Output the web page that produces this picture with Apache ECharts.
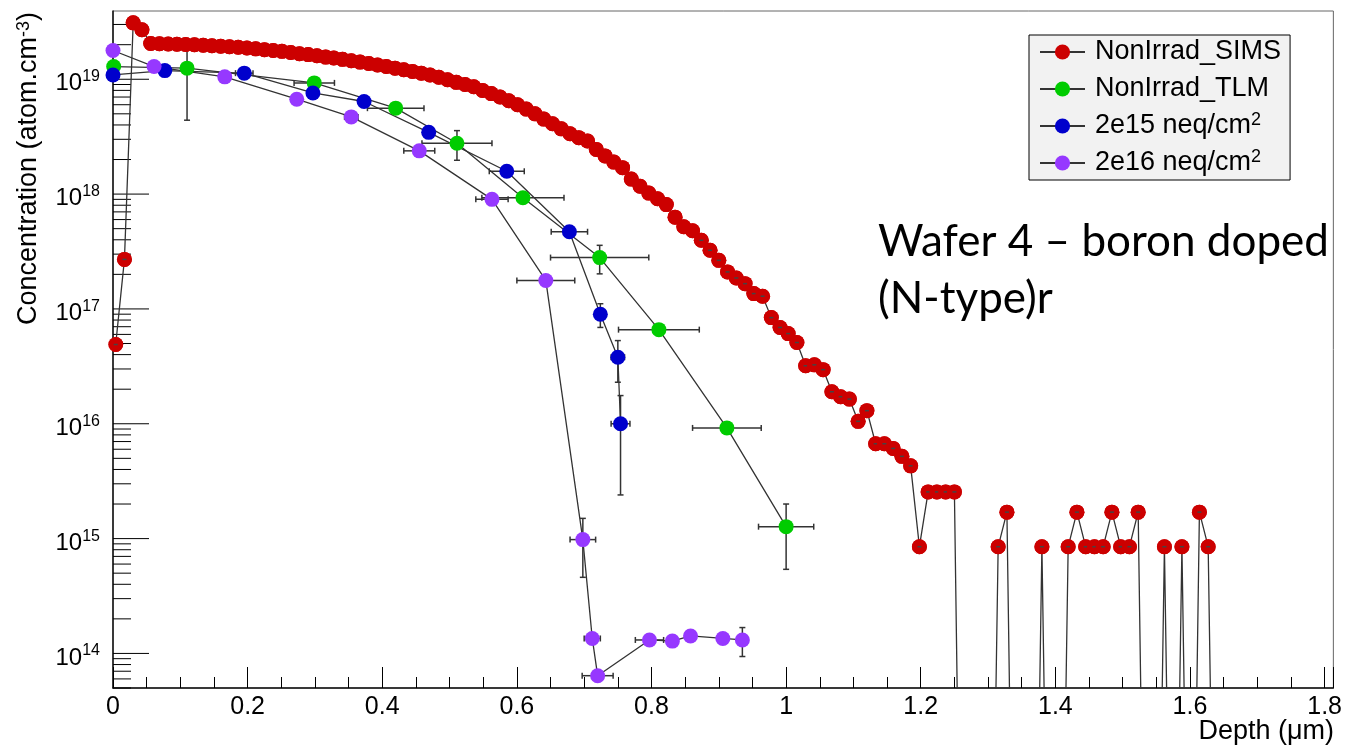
<!DOCTYPE html>
<html>
<head>
<meta charset="utf-8">
<title>Wafer 4 boron profile</title>
<script src="https://cdn.jsdelivr.net/npm/echarts@6/dist/echarts.min.js"></script>
<style>
  html, body { margin: 0; padding: 0; background: #ffffff; }
  #chart { width: 1345px; height: 751px; }
</style>
</head>
<body>
<div id="chart"></div>
<script>
// ---- Boron concentration vs depth (depth in um, concentration in atom/cm3) ----

// SIMS profile, non irradiated wafer (0 = no counts)
const simsDepth = [
  0.004, 0.017, 0.030, 0.043, 0.056, 0.069, 0.082, 0.095, 0.108, 0.121,
  0.134, 0.147, 0.160, 0.173, 0.186, 0.199, 0.212, 0.225, 0.238, 0.251,
  0.264, 0.277, 0.290, 0.303, 0.316, 0.328, 0.341, 0.354, 0.367, 0.380,
  0.393, 0.406, 0.419, 0.432, 0.445, 0.458, 0.471, 0.484, 0.497, 0.510,
  0.523, 0.536, 0.549, 0.562, 0.575, 0.588, 0.601, 0.614, 0.627, 0.640,
  0.653, 0.666, 0.679, 0.692, 0.705, 0.718, 0.731, 0.744, 0.757, 0.770,
  0.783, 0.796, 0.809, 0.822, 0.835, 0.848, 0.861, 0.874, 0.887, 0.900,
  0.913, 0.926, 0.939, 0.952, 0.965, 0.978, 0.991, 1.003, 1.016, 1.029,
  1.042, 1.055, 1.068, 1.081, 1.094, 1.107, 1.120, 1.133, 1.146, 1.159,
  1.172, 1.185, 1.198, 1.211, 1.224, 1.237, 1.250, 1.263, 1.276, 1.289,
  1.302, 1.315, 1.328, 1.341, 1.354, 1.367, 1.380, 1.393, 1.406, 1.419,
  1.432, 1.445, 1.458, 1.471, 1.484, 1.497, 1.510, 1.523, 1.536, 1.549,
  1.562, 1.575, 1.588, 1.601, 1.614, 1.627, 1.640
];
const simsConc = [
  4.9e16, 2.7e17, 3.1e19, 2.7e19, 2.05e19, 2.04e19, 2.03e19, 2.02e19, 2.01e19, 2.00e19,
  1.98e19, 1.96e19, 1.94e19, 1.92e19, 1.90e19, 1.87e19, 1.84e19, 1.81e19, 1.78e19, 1.75e19,
  1.71e19, 1.67e19, 1.64e19, 1.60e19, 1.56e19, 1.53e19, 1.49e19, 1.45e19, 1.41e19, 1.37e19,
  1.33e19, 1.29e19, 1.25e19, 1.21e19, 1.17e19, 1.13e19, 1.09e19, 1.04e19, 9.9e18, 9.4e18,
  9.0e18, 8.6e18, 8.0e18, 7.5e18, 7.0e18, 6.5e18, 6.0e18, 5.5e18, 5.0e18, 4.5e18,
  4.1e18, 3.7e18, 3.35e18, 3.1e18, 2.9e18, 2.45e18, 2.15e18, 1.9e18, 1.7e18, 1.35e18,
  1.17e18, 1.02e18, 9.1e17, 8.1e17, 6.3e17, 5.2e17, 4.8e17, 3.96e17, 3.24e17, 2.65e17,
  2.10e17, 1.86e17, 1.66e17, 1.36e17, 1.29e17, 8.4e16, 6.9e16, 6.1e16, 5.1e16, 3.2e16,
  3.26e16, 2.96e16, 1.9e16, 1.72e16, 1.64e16, 1.05e16, 1.30e16, 6.7e15, 6.7e15, 6.1e15,
  5.2e15, 4.3e15, 8.5e14, 2.55e15, 2.55e15, 2.55e15, 2.55e15, 0, 0, 0,
  0, 8.5e14, 1.7e15, 0, 0, 0, 8.5e14, 0, 0, 8.5e14,
  1.7e15, 8.5e14, 8.5e14, 8.5e14, 1.7e15, 8.5e14, 8.5e14, 1.7e15, 0, 0,
  8.5e14, 0, 8.5e14, 0, 1.7e15, 8.5e14, 0
];

// TLM extraction, non irradiated
const tlmDepth    = [0.001, 0.110, 0.299, 0.420, 0.511, 0.609, 0.723, 0.811, 0.912, 1.000];
const tlmConc     = [1.29e19, 1.25e19, 9.3e18, 5.6e18, 2.77e18, 9.3e17, 2.8e17, 6.6e16, 9.2e15, 1.27e15];
const tlmDepthErr = [0, 0, 0.030, 0.042, 0.052, 0.061, 0.073, 0.060, 0.051, 0.041];
const tlmConcErr  = [0, 8.1e18, 0, 0, 8.0e17, 0, 7.8e16, 0, 0, 7.3e14];

// 2e15 neq/cm2
const f15Depth    = [0.000, 0.077, 0.195, 0.297, 0.373, 0.469, 0.585, 0.678, 0.724, 0.750, 0.754];
const f15Conc     = [1.09e19, 1.19e19, 1.13e19, 7.6e18, 6.4e18, 3.45e18, 1.58e18, 4.7e17, 9.0e16, 3.8e16, 1.0e16];
const f15DepthErr = [0, 0, 0.013, 0, 0, 0, 0.026, 0.027, 0.004, 0.010, 0.014];
const f15ConcErr  = [0, 0, 0, 0, 0, 0, 0, 0, 2.1e16, 1.5e16, 7.6e15];

// 2e16 neq/cm2
const f16Depth    = [0.000, 0.061, 0.166, 0.273, 0.354, 0.455, 0.563, 0.643, 0.698, 0.712, 0.720, 0.797, 0.831, 0.858, 0.906, 0.935];
const f16Conc     = [1.78e19, 1.29e19, 1.05e19, 6.7e18, 4.7e18, 2.38e18, 9.0e17, 1.77e17, 9.8e14, 1.35e14, 6.4e13, 1.31e14, 1.28e14, 1.42e14, 1.35e14, 1.31e14];
const f16DepthErr = [0, 0, 0, 0, 0.010, 0.023, 0.024, 0.043, 0.019, 0.012, 0.023, 0.021, 0, 0, 0, 0];
const f16ConcErr  = [0, 0, 0, 0, 0, 0, 0, 0, 5.2e14, 0, 0, 0, 1.4e13, 0, 0, 3.7e13];

// axis ranges
const depthMin = 0, depthMax = 1.813;
const concMin = 5.0e13, concMax = 3.93e19;
const decades = [13, 14, 15, 16, 17, 18, 19];

const seriesNames = ['NonIrrad_SIMS', 'NonIrrad_TLM', '2e15 neq/cm2', '2e16 neq/cm2'];
const seriesColors = ['#cc0000', '#00cc00', '#0000cc', '#9638ff'];

const FONT = 'Liberation Sans';
const ZERO_FLOOR = 1e10;      // zero-count SIMS bins fall far below the axis
const MARKER_R = 7.5;
const SIMS_DASH_BELOW = 4.5e17; // depth-error dash is only shown on the low-count part of the profile

const pairs = (xs, ys) => xs.map((x, i) => [x, ys[i]]);
const errRows = (xs, ys, exs, eys) => xs.map((x, i) => [x, ys[i], exs[i], eys[i]]);

// minor / major ticks of the logarithmic axis
const yTicks = [];
decades.forEach(function (d) {
  for (let k = 1; k <= 9; k++) {
    const v = k * Math.pow(10, d);
    if (v >= concMin && v <= concMax) yTicks.push([0, v, k === 1 ? 36 : 18]);
  }
});

function renderYTick(params, api) {
  const p = api.coord([api.value(0), api.value(1)]);
  const len = api.value(2);
  return {
    type: 'line',
    shape: { x1: p[0], y1: p[1], x2: p[0] + len, y2: p[1] },
    style: { stroke: '#000', lineWidth: 1 }
  };
}

function renderErrors(params, api) {
  const x = api.value(0), y = api.value(1), ex = api.value(2), ey = api.value(3);
  const c = api.coord([x, y]);
  const style = { stroke: '#333', lineWidth: 1.5 };
  const cap = 3;
  const kids = [];
  if (ex > 0) {
    const l = api.coord([x - ex, y])[0], h = api.coord([x + ex, y])[0];
    kids.push({ type: 'line', shape: { x1: l, y1: c[1], x2: h, y2: c[1] }, style: style });
    kids.push({ type: 'line', shape: { x1: l, y1: c[1] - cap, x2: l, y2: c[1] + cap }, style: style });
    kids.push({ type: 'line', shape: { x1: h, y1: c[1] - cap, x2: h, y2: c[1] + cap }, style: style });
  }
  if (ey > 0) {
    const lo = api.coord([x, Math.max(y - ey, concMin * 0.5)])[1], hi = api.coord([x, y + ey])[1];
    kids.push({ type: 'line', shape: { x1: c[0], y1: lo, x2: c[0], y2: hi }, style: style });
    kids.push({ type: 'line', shape: { x1: c[0] - cap, y1: lo, x2: c[0] + cap, y2: lo }, style: style });
    kids.push({ type: 'line', shape: { x1: c[0] - cap, y1: hi, x2: c[0] + cap, y2: hi }, style: style });
  }
  return { type: 'group', children: kids };
}

// SIMS markers, drawn point by point with their small depth-error dash
function renderSimsMarker(params, api) {
  const v = api.value(1);
  const p = api.coord([api.value(0), v]);
  const kids = [
    { type: 'circle', shape: { cx: p[0], cy: p[1], r: MARKER_R }, style: { fill: seriesColors[0] } }
  ];
  if (v < SIMS_DASH_BELOW) {
    kids.push({ type: 'line', shape: { x1: p[0] - 2, y1: p[1], x2: p[0] + 2, y2: p[1] }, style: { stroke: '#444', lineWidth: 1.5 } });
  }
  return { type: 'group', children: kids };
}

function lineSeries(name, color, data) {
  return {
    name: name,
    type: 'line',
    data: data,
    z: 3,
    symbol: 'circle',
    symbolSize: MARKER_R * 2,
    showAllSymbol: true,
    itemStyle: { color: color },
    lineStyle: { color: '#333', width: 1.3 },
    clip: true,
    emphasis: { disabled: true }
  };
}

const simsLineData = simsDepth.map((d, i) => [d, simsConc[i] > 0 ? simsConc[i] : ZERO_FLOOR]);
const simsMarkerData = pairs(simsDepth, simsConc).filter(r => r[1] > 0);

const isPow10 = v => Math.abs(Math.log10(v) - Math.round(Math.log10(v))) < 1e-6;

const chart = echarts.init(document.getElementById('chart'), null, { renderer: 'canvas' });

chart.setOption({
  animation: false,
  backgroundColor: '#ffffff',
  textStyle: { fontFamily: FONT },
  grid: {
    left: 113, right: 11, top: 11, bottom: 63,
    show: true, borderColor: '#666', borderWidth: 1, backgroundColor: '#ffffff'
  },
  xAxis: {
    type: 'value',
    min: depthMin, max: depthMax, interval: 0.2,
    axisLine: { onZero: false, lineStyle: { color: '#111', width: 1.5 } },
    axisTick: { inside: true, length: 21, lineStyle: { color: '#000', width: 1 } },
    minorTick: { show: true, splitNumber: 4, length: 11, lineStyle: { color: '#000', width: 1 } },
    splitLine: { show: false },
    axisLabel: {
      margin: 7, fontSize: 25, color: '#000', fontFamily: FONT,
      formatter: function (v) {
        const q = v / 0.2;
        return Math.abs(q - Math.round(q)) < 1e-6 ? String(+v.toFixed(1)) : '';
      }
    }
  },
  yAxis: {
    type: 'log', logBase: 10,
    min: concMin, max: concMax,
    axisLine: { lineStyle: { color: '#111', width: 1.5 } },
    axisTick: { show: false },
    splitLine: { show: false },
    axisLabel: {
      margin: 13, color: '#000', fontFamily: FONT,
      formatter: function (v) {
        return isPow10(v) ? '{b|10}{s|' + Math.round(Math.log10(v)) + '}' : '';
      },
      rich: {
        b: { fontSize: 24, lineHeight: 21, padding: [9, 0, 0, 0], fontFamily: FONT, color: '#000' },
        s: { fontSize: 16, lineHeight: 16, verticalAlign: 'top', fontFamily: FONT, color: '#000' }
      }
    }
  },
  legend: {
    data: seriesNames,
    orient: 'vertical',
    left: 1029, top: 35,
    backgroundColor: '#f2f2f2',
    borderColor: '#000', borderWidth: 1, borderRadius: 0,
    padding: [2, 9, 2, 10],
    itemWidth: 45, itemHeight: 19, itemGap: 7,
    selectedMode: false,
    formatter: function (name) { return name.replace(/cm2$/, 'cm{s|2}'); },
    textStyle: {
      fontFamily: FONT, fontSize: 27, color: '#000', lineHeight: 30, padding: [0, 0, 0, 5],
      rich: { s: { fontFamily: FONT, fontSize: 18, lineHeight: 18, verticalAlign: 'top', color: '#000' } }
    }
  },
  graphic: [
    {
      type: 'text', x: 29, y: 12, rotation: Math.PI / 2,
      style: {
        text: 'Concentration (atom.cm{s|-3})',
        align: 'right', verticalAlign: 'middle',
        fontFamily: FONT, fontSize: 27, fill: '#000',
        rich: { s: { fontFamily: FONT, fontSize: 18, lineHeight: 18, verticalAlign: 'top', fill: '#000' } }
      }
    },
    {
      type: 'text', x: 1334, y: 732,
      style: { text: 'Depth (\u03bcm)', align: 'right', verticalAlign: 'middle', fontFamily: FONT, fontSize: 27, fill: '#000' }
    },
    {
      type: 'text', x: 878, y: 242,
      style: { text: 'Wafer 4 \u2013 boron doped', align: 'left', verticalAlign: 'middle', fontFamily: 'Lato', fontSize: 44, fill: '#000' }
    },
    {
      type: 'text', x: 878, y: 299,
      style: { text: '(N-type)r', align: 'left', verticalAlign: 'middle', fontFamily: 'Lato', fontSize: 44, fill: '#000' }
    }
  ],
  series: [
    {
      type: 'custom', name: 'yTicks', data: yTicks, renderItem: renderYTick,
      encode: { x: 0, y: 1 }, z: 1, silent: true, clip: false
    },
    lineSeries(seriesNames[0], seriesColors[0], simsLineData),
    {
      type: 'custom', name: 'simsMarkers', data: simsMarkerData, renderItem: renderSimsMarker,
      encode: { x: 0, y: 1 }, z: 4, silent: true, clip: true
    },
    {
      type: 'custom', name: 'tlmErr', data: errRows(tlmDepth, tlmConc, tlmDepthErr, tlmConcErr),
      renderItem: renderErrors, encode: { x: 0, y: 1 }, z: 2, silent: true, clip: true
    },
    lineSeries(seriesNames[1], seriesColors[1], pairs(tlmDepth, tlmConc)),
    {
      type: 'custom', name: 'f15Err', data: errRows(f15Depth, f15Conc, f15DepthErr, f15ConcErr),
      renderItem: renderErrors, encode: { x: 0, y: 1 }, z: 2, silent: true, clip: true
    },
    lineSeries(seriesNames[2], seriesColors[2], pairs(f15Depth, f15Conc)),
    {
      type: 'custom', name: 'f16Err', data: errRows(f16Depth, f16Conc, f16DepthErr, f16ConcErr),
      renderItem: renderErrors, encode: { x: 0, y: 1 }, z: 2, silent: true, clip: true
    },
    lineSeries(seriesNames[3], seriesColors[3], pairs(f16Depth, f16Conc))
  ]
});
</script>
</body>
</html>
